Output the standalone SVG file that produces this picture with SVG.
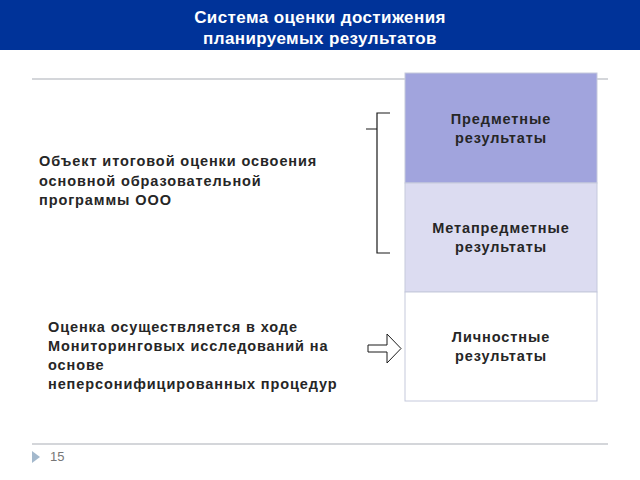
<svg xmlns="http://www.w3.org/2000/svg" width="640" height="480" viewBox="0 0 640 480">
<style>
.t{font-family:"Liberation Sans",Arial,sans-serif;font-weight:bold;font-size:14.5px;letter-spacing:0.9px;fill:#262626}
.c{text-anchor:middle}
.h{font-family:"Liberation Sans",Arial,sans-serif;font-weight:bold;font-size:17px;letter-spacing:0.4px;fill:#ffffff;text-anchor:middle}
.rule{stroke:#d4d6da;stroke-width:2;fill:none}
.box{stroke:#c5c9dc;stroke-width:1}
.ln{stroke:#1a1a1a;stroke-width:1.2;fill:none}
</style>
<rect x="0" y="0" width="640" height="480" fill="#ffffff"/>
<g id="header">
<rect x="0" y="0" width="640" height="50" fill="#003399"/>
<text class="h" x="320" y="23">Система оценки достижения</text>
<text class="h" x="320" y="44">планируемых результатов</text>
</g>
<line class="rule" x1="32" y1="79" x2="608" y2="79"/>
<g id="subject">
<rect class="box" x="405" y="73" width="192" height="110" fill="#a1a4dd"/>
<text class="t c" x="501" y="124">Предметные</text>
<text class="t c" x="501" y="143">результаты</text>
</g>
<g id="metasubject">
<rect class="box" x="405" y="183" width="192" height="109" fill="#dcdcf1"/>
<text class="t c" x="501" y="233">Метапредметные</text>
<text class="t c" x="501" y="252">результаты</text>
</g>
<g id="personal">
<rect class="box" x="405" y="292" width="192" height="109" fill="#ffffff"/>
<text class="t c" x="501" y="342">Личностные</text>
<text class="t c" x="501" y="361">результаты</text>
</g>
<g id="object">
<text class="t" x="39" y="166">Объект итоговой оценки освоения</text>
<text class="t" x="39" y="186">основной образовательной</text>
<text class="t" x="39" y="205">программы ООО</text>
</g>
<g id="monitoring">
<text class="t" x="48" y="332">Оценка осуществляется в ходе</text>
<text class="t" x="48" y="351">Мониторинговых исследований на</text>
<text class="t" x="48" y="370">основе</text>
<text class="t" x="48" y="389">неперсонифицированных процедур</text>
</g>
<g id="connectors">
<path class="ln" d="M390 113 H377 V253 H390 M366 129 H377"/>
<path d="M368 345 H387 V334 L401 348.5 L387 363 V352 H368 Z" fill="#ffffff" stroke="#1a1a1a" stroke-width="1"/>
</g>
<g id="footer">
<line class="rule" x1="32" y1="444" x2="608" y2="444"/>
<path d="M32 451 L40 457 L32 463 Z" fill="#a3b8cc"/>
<text x="50" y="461" font-family="Liberation Sans,Arial,sans-serif" font-size="13" fill="#777777">15</text>
</g>
</svg>
